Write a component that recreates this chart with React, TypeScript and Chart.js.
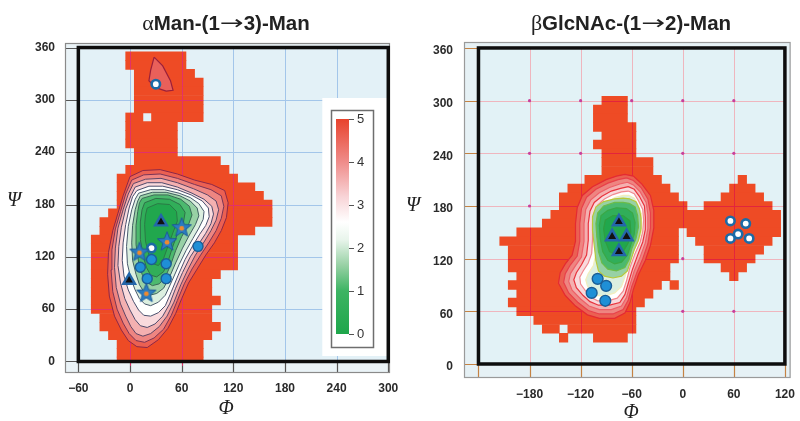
import React, { useEffect, useRef } from 'react';
import { Chart, registerables } from 'chart.js';

Chart.register(...registerables);

type Pt = [number, number];
type Row = [number, number, number];

// ---------------- shared ----------------
const CELL = 10;
const RED = '#ee4b25';
const Y_TICKS = [0, 60, 120, 180, 240, 300, 360];
const Y_LABELS = ['0', '60', '120', '180', '240', '300', '360'];
const LEVELS = [5, 4.5, 4, 3.5, 3, 2.5, 2, 1.5, 1, 0.5];
const CBAR_TICKS = [0, 1, 2, 3, 4, 5];
const CMAP_STOPS: [number, string][] = [
  [0, '#1ea64b'], [1, '#3db463'], [1.6, '#98d1a5'], [2.2, '#e9f5ec'],
  [2.6, '#ffffff'], [3.2, '#f8d3d6'], [4, '#ef8c8a'], [5, '#e8432d'],
];

// ---------------- left panel: αMan-(1→3)-Man ----------------
const LEFT_TITLE = ['α', 'Man-(1', '→', '3)-Man'];
const LEFT_X_TICKS = [-60, 0, 60, 120, 180, 240, 300];
const LEFT_X_LABELS = ['\u221260', '0', '60', '120', '180', '240', '300'];

// [psi, first phi cell, last phi cell]
const LEFT_ROWS: Row[] = [
  [350, 0, 60], [340, 0, 60], [330, 10, 70], [320, 10, 80], [310, 10, 80], [300, 10, 80], [290, 10, 80],
  [280, 0, 10], [280, 30, 80],
  [270, 0, 50], [260, 0, 50], [250, 0, 50], [240, 10, 50], [230, 10, 100], [220, 0, 110], [210, -10, 120],
  [200, -10, 140], [190, -10, 150], [180, -10, 160], [170, -20, 160], [160, -30, 160], [150, -30, 140],
  [140, -40, 120], [130, -40, 120], [120, -40, 120], [110, -40, 120], [100, -40, 100], [90, -40, 90],
  [80, -40, 90], [70, -40, 100], [60, -40, 90], [50, -30, 90], [40, -30, 100], [30, -20, 90],
  [20, -10, 80], [10, -10, 80], [0, -10, 80],
];

const L_C50: Pt[] = [[0,212],[15,219],[35,220],[55,215],[75,208],[95,203],[110,196],[114,182],[112,165],[106,150],[98,136],[88,122],[78,106],[68,90],[60,72],[53,55],[44,38],[33,25],[20,16],[8,17],[-2,24],[-10,36],[-18,52],[-24,75],[-26,100],[-25,125],[-20,150],[-14,170],[-8,190]];
const L_C45: Pt[] = [[2,208],[16,214],[35,215],[55,210],[75,203],[94,197],[106,190],[109,178],[106,164],[100,150],[92,137],[82,122],[72,106],[63,89],[55,70],[48,53],[39,37],[28,27],[17,22],[7,24],[-1,32],[-8,44],[-15,60],[-20,80],[-22,105],[-21,128],[-17,152],[-11,172],[-5,192]];
const L_C40: Pt[] = [[4,204],[18,209],[36,210],[55,205],[74,198],[90,191],[100,184],[103,174],[100,162],[94,150],[86,137],[76,122],[67,105],[59,88],[51,68],[43,52],[34,40],[24,32],[15,29],[7,32],[1,40],[-5,52],[-11,66],[-16,85],[-18,108],[-17,130],[-14,153],[-8,174],[-2,192]];
const L_C35: Pt[] = [[6,200],[20,205],[37,205],[55,200],[72,193],[86,186],[95,178],[97,169],[94,158],[88,147],[80,135],[70,120],[61,102],[53,84],[46,66],[38,52],[29,43],[20,39],[12,41],[6,48],[0,59],[-6,72],[-11,90],[-14,110],[-13,132],[-10,154],[-5,175],[1,190]];
const L_C30: Pt[] = [[8,196],[22,201],[38,201],[55,197],[71,191],[84,184],[91,176],[92,166],[88,156],[81,146],[73,133],[64,117],[56,99],[48,80],[41,64],[33,56],[24,52],[16,53],[10,59],[4,69],[-2,82],[-7,98],[-9,116],[-8,136],[-5,157],[-1,176],[3,189]];
const L_C25: Pt[] = [[10,193],[24,197],[40,197],[57,193],[70,188],[80,181],[86,172],[85,163],[80,153],[73,141],[65,127],[57,111],[49,93],[41,76],[33,68],[24,64],[17,66],[11,72],[6,82],[1,95],[-3,112],[-4,132],[-2,155],[2,174],[6,186]];
const L_C20: Pt[] = [[12,190],[26,194],[42,194],[58,190],[70,184],[78,176],[80,167],[76,157],[69,145],[61,130],[53,113],[46,97],[39,84],[31,78],[23,76],[16,80],[11,88],[7,100],[3,116],[2,136],[3,156],[6,174],[9,184]];
const L_C15: Pt[] = [[14,187],[28,191],[44,191],[59,186],[69,178],[72,168],[68,157],[60,143],[53,127],[47,110],[41,97],[34,89],[26,87],[19,91],[14,100],[10,114],[7,134],[7,156],[9,172],[11,182]];
const L_C10: Pt[] = [[17,182],[30,187],[46,186],[58,180],[64,171],[62,159],[55,146],[49,130],[44,114],[39,103],[31,97],[24,99],[19,108],[15,122],[12,140],[12,160],[14,174]];
const L_C05: Pt[] = [[20,176],[32,181],[46,180],[54,172],[55,161],[50,148],[44,132],[39,118],[33,110],[27,112],[22,122],[18,138],[17,157],[18,168]];
const LEFT_CONTOURS = [L_C50, L_C45, L_C40, L_C35, L_C30, L_C25, L_C20, L_C15, L_C10, L_C05];
const LEFT_LINE_COLORS = ['#8c2748', '#7a3456', '#5e4566', '#4f4a6c', '#4a506e', '#4a5a6e', '#3f6060', '#3a6a55', '#2f7048', '#2a7a45'];
const LEFT_ISLAND: Pt[] = [[28,349],[24,334],[22,322],[30,314],[42,310],[50,311],[47,322],[38,339]];

const LEFT_TRIANGLES: Pt[] = [[36, 160], [-1, 93]];
const LEFT_STARS: Pt[] = [[60, 154], [43, 138], [11, 126], [19, 79]];
const LEFT_BLUE: Pt[] = [[79, 132], [25, 117], [12, 108], [42, 112], [20, 95], [42, 95]];
const LEFT_WHITE: Pt[] = [[25, 130], [30, 318]];

// ---------------- right panel: βGlcNAc-(1→2)-Man ----------------
const RIGHT_TITLE = ['β', 'GlcNAc-(1', '→', '2)-Man'];
const RIGHT_X_TICKS = [-240, -180, -120, -60, 0, 60, 120];
const RIGHT_X_LABELS = ['', '\u2212180', '\u2212120', '\u221260', '0', '60', '120'];

const RIGHT_ROWS: Row[] = [
  [300, -90, -70],
  [290, -100, -70], [280, -100, -70], [270, -100, -60], [260, -90, -60], [250, -100, -60], [240, -90, -60],
  [230, -90, -40], [220, -90, -40],
  [210, -110, -30], [210, 70, 70],
  [200, -130, -20], [200, 60, 80],
  [190, -140, -10], [190, 50, 90],
  [180, -140, 0], [180, 30, 100],
  [170, -150, 110],
  [160, -160, 110],
  [150, -190, -10], [150, 10, 110],
  [140, -210, -10], [140, 20, 100],
  [130, -200, -10], [130, 30, 90],
  [120, -200, -10], [120, 30, 80],
  [110, -200, -20], [110, 50, 70],
  [100, -190, -20], [100, 60, 60],
  [90, -200, -30], [90, -10, -10],
  [80, -190, -40],
  [70, -200, -50],
  [60, -190, -60],
  [50, -170, -60],
  [40, -160, -150], [40, -130, -60],
  [30, -140, -140], [30, -100, -70],
];

const R_C50: Pt[] = [[-68,216],[-58,214],[-48,205],[-38,192],[-34,175],[-34,155],[-38,135],[-44,118],[-52,102],[-58,85],[-62,70],[-68,58],[-80,52],[-98,52],[-112,56],[-126,66],[-138,78],[-146,92],[-144,104],[-138,114],[-130,124],[-126,140],[-126,160],[-124,178],[-118,192],[-106,202],[-90,210],[-78,214]];
const R_C45: Pt[] = [[-66,212],[-58,209],[-49,201],[-41,188],[-38,172],[-38,155],[-41,137],[-47,120],[-54,104],[-60,88],[-64,73],[-70,62],[-82,57],[-98,57],[-111,61],[-123,70],[-134,81],[-140,93],[-138,103],[-132,113],[-124,123],[-121,140],[-121,160],[-119,177],[-113,190],[-102,199],[-88,206],[-76,210]];
const R_C40: Pt[] = [[-65,207],[-58,204],[-50,196],[-43,184],[-41,170],[-41,154],[-44,138],[-50,122],[-57,106],[-62,90],[-66,76],[-72,66],[-84,62],[-98,62],[-110,66],[-120,74],[-130,84],[-134,94],[-132,103],[-126,112],[-119,122],[-116,140],[-116,160],[-114,176],[-108,187],[-98,195],[-86,201],[-74,205]];
const R_C35: Pt[] = [[-64,202],[-57,199],[-51,191],[-45,180],[-44,167],[-44,153],[-47,139],[-53,124],[-59,108],[-64,92],[-68,79],[-74,70],[-86,67],[-99,67],[-109,71],[-117,78],[-125,87],[-128,96],[-125,104],[-119,113],[-113,124],[-111,141],[-111,160],[-109,174],[-104,184],[-95,191],[-84,197],[-73,200]];
const R_C30: Pt[] = [[-64,197],[-57,194],[-52,186],[-47,176],[-46,164],[-47,151],[-50,139],[-56,126],[-62,110],[-66,95],[-70,83],[-77,75],[-88,72],[-100,72],[-108,76],[-114,83],[-120,91],[-121,99],[-117,106],[-111,115],[-107,126],[-106,142],[-106,160],[-104,172],[-100,181],[-92,188],[-82,193],[-72,196]];
const R_C25: Pt[] = [[-63,192],[-57,189],[-53,182],[-49,172],[-48,162],[-49,150],[-53,139],[-58,128],[-64,113],[-68,99],[-72,88],[-80,81],[-90,78],[-101,78],[-108,82],[-112,89],[-114,96],[-111,103],[-105,112],[-102,126],[-101,143],[-101,160],[-99,171],[-95,179],[-88,185],[-79,190],[-70,192]];
const R_C20: Pt[] = [[-62,188],[-55,185],[-51,177],[-49,166],[-49,154],[-52,141],[-57,130],[-61,118],[-65,106],[-72,100],[-82,98],[-92,100],[-99,106],[-102,118],[-104,135],[-106,152],[-106,168],[-102,179],[-93,185],[-80,188],[-70,189]];
const R_C15: Pt[] = [[-63,183],[-56,179],[-53,169],[-52,156],[-55,143],[-60,131],[-63,119],[-68,110],[-78,106],[-88,108],[-95,115],[-99,128],[-101,145],[-102,160],[-100,172],[-93,180],[-80,184],[-70,184]];
const R_C10: Pt[] = [[-66,177],[-59,172],[-56,161],[-57,148],[-61,136],[-65,124],[-72,116],[-80,114],[-88,118],[-94,128],[-97,143],[-98,158],[-96,169],[-88,175],[-78,178]];
const R_C05: Pt[] = [[-70,169],[-62,163],[-61,150],[-64,138],[-70,128],[-78,124],[-86,128],[-91,140],[-93,154],[-91,164],[-82,169]];
const RIGHT_CONTOURS = [R_C50, R_C45, R_C40, R_C35, R_C30, R_C25, R_C20, R_C15, R_C10, R_C05];
const RIGHT_LINE_COLORS = ['#e42a32', '#e8404a', '#ee6068', '#e8343e', '#f08a90', '#f3eebc', '#b8c83a', '#6cbc48', '#3aa845', '#2f9e40'];

const RIGHT_TRIANGLES: Pt[] = [[-75, 162], [-83, 145], [-66, 145], [-75, 128]];
const RIGHT_BLUE: Pt[] = [[-100, 97], [-90, 89], [-107, 81], [-91, 72]];
const RIGHT_WHITE: Pt[] = [[56, 163], [74, 160], [65, 148], [56, 143], [78, 143]];

// ---------------- helpers ----------------
function hexRgb(h: string) {
  return [parseInt(h.slice(1, 3), 16), parseInt(h.slice(3, 5), 16), parseInt(h.slice(5, 7), 16)];
}
function cmap(v: number) {
  const s = CMAP_STOPS;
  if (v <= s[0][0]) return s[0][1];
  for (let i = 1; i < s.length; i++) {
    if (v <= s[i][0]) {
      const t = (v - s[i - 1][0]) / (s[i][0] - s[i - 1][0]);
      const a = hexRgb(s[i - 1][1]);
      const b = hexRgb(s[i][1]);
      const c = a.map((ai, k) => Math.round(ai + (b[k] - ai) * t));
      return `rgb(${c[0]},${c[1]},${c[2]})`;
    }
  }
  return s[s.length - 1][1];
}

function makeStar() {
  const c = document.createElement('canvas');
  c.width = 22; c.height = 22;
  const g = c.getContext('2d')!;
  g.beginPath();
  for (let i = 0; i < 10; i++) {
    const r = i % 2 === 0 ? 10.2 : 4.4;
    const a = -Math.PI / 2 + (i * Math.PI) / 5;
    const px = 11 + r * Math.cos(a), py = 11.8 + r * Math.sin(a);
    if (i === 0) g.moveTo(px, py); else g.lineTo(px, py);
  }
  g.closePath();
  g.fillStyle = '#2a7cc2';
  g.fill();
  g.strokeStyle = '#1d5a96';
  g.lineWidth = 1;
  g.stroke();
  g.beginPath();
  g.arc(11, 12.2, 2.4, 0, Math.PI * 2);
  g.fillStyle = '#f08a2e';
  g.fill();
  return c;
}

function polygonDataset(pts: Pt[], fill: string, line: string, order: number, width = 1) {
  const data = pts.concat([pts[0]]).map(([x, y]) => ({ x, y }));
  return {
    type: 'line', data, fill: 'shape', backgroundColor: fill, borderColor: line,
    borderWidth: width, pointRadius: 0, pointHoverRadius: 0, tension: 0, order,
  };
}

function markerDataset(pts: Pt[], style: any, radius: number, bg: string, border: string, bw: number, order: number) {
  return {
    type: 'scatter', data: pts.map(([x, y]) => ({ x, y })), pointStyle: style, pointRadius: radius,
    pointHoverRadius: radius, backgroundColor: bg, borderColor: border, borderWidth: bw, order,
  };
}

function drawTitle(ctx: CanvasRenderingContext2D, parts: string[], cx: number, baseline: number) {
  const fonts = ['22px "Liberation Serif"', 'bold 20.5px "Liberation Sans"', '19px "DejaVu Sans"', 'bold 20.5px "Liberation Sans"'];
  const sx = [1, 1, 1.5, 1];
  ctx.save();
  ctx.fillStyle = '#222';
  ctx.textBaseline = 'alphabetic';
  ctx.textAlign = 'left';
  const widths = parts.map((p, i) => { ctx.font = fonts[i]; return ctx.measureText(p).width * sx[i]; });
  const total = widths.reduce((a, b) => a + b, 0);
  let x = cx - total / 2;
  parts.forEach((p, i) => {
    ctx.font = fonts[i];
    ctx.save();
    ctx.translate(x, baseline - (i === 2 ? 1 : 0));
    ctx.scale(sx[i], 1);
    ctx.fillText(p, 0, 0);
    ctx.restore();
    x += widths[i];
  });
  ctx.restore();
}

const px = (v: number) => Math.round(v) + 0.5;

function makePlugin(cfg: any) {
  return {
    id: 'panelDecor',
    beforeDraw(chart: any) {
      const { ctx, chartArea: a, scales: { x, y } } = chart;
      ctx.save();
      ctx.fillStyle = '#ffffff';
      ctx.fillRect(0, 0, chart.width, chart.height);
      ctx.fillStyle = cfg.outerBg;
      ctx.fillRect(a.left, a.top, a.right - a.left, a.bottom - a.top);
      const bx0 = x.getPixelForValue(cfg.box[0]), bx1 = x.getPixelForValue(cfg.box[1]);
      const by0 = y.getPixelForValue(cfg.box[2]), by1 = y.getPixelForValue(cfg.box[3]);
      ctx.fillStyle = cfg.boxBg;
      ctx.fillRect(bx0, by1, bx1 - bx0, by0 - by1);
      ctx.restore();
    },
    beforeDatasetsDraw(chart: any) {
      const { ctx, chartArea: a, scales: { x, y } } = chart;
      const bx0 = x.getPixelForValue(cfg.box[0]), bx1 = x.getPixelForValue(cfg.box[1]);
      const by0 = y.getPixelForValue(cfg.box[2]), by1 = y.getPixelForValue(cfg.box[3]);
      ctx.save();
      ctx.lineWidth = 1;
      ctx.strokeStyle = cfg.gridColor;
      ctx.beginPath();
      cfg.xTicks.forEach((v: number) => {
        if (v <= cfg.box[0] || v >= cfg.box[1]) return;
        const xx = px(x.getPixelForValue(v));
        ctx.moveTo(xx, by1); ctx.lineTo(xx, by0);
      });
      Y_TICKS.forEach((v) => {
        if (v <= cfg.box[2] || v >= cfg.box[3]) return;
        const yy = px(y.getPixelForValue(v));
        ctx.moveTo(bx0, yy); ctx.lineTo(bx1, yy);
      });
      ctx.stroke();
      if (cfg.dots) {
        ctx.fillStyle = cfg.dotColor;
        cfg.xTicks.forEach((v: number) => {
          if (v <= cfg.box[0] || v >= cfg.box[1]) return;
          Y_TICKS.forEach((w) => {
            if (w <= cfg.box[2] || w >= cfg.box[3]) return;
            ctx.beginPath();
            ctx.arc(x.getPixelForValue(v), y.getPixelForValue(w), 1.6, 0, Math.PI * 2);
            ctx.fill();
          });
        });
      }
      // tick stubs between frame and box
      ctx.strokeStyle = cfg.stubColor;
      ctx.lineWidth = 1.2;
      ctx.beginPath();
      Y_TICKS.forEach((v) => {
        const yy = px(y.getPixelForValue(v));
        ctx.moveTo(a.left, yy); ctx.lineTo(bx0, yy);
      });
      cfg.xTicks.forEach((v: number) => {
        const xx = px(x.getPixelForValue(v));
        ctx.moveTo(xx, by0); ctx.lineTo(xx, a.bottom);
      });
      ctx.stroke();
      ctx.restore();
    },
    afterDatasetDraw(chart: any, args: any) {
      if (args.meta.type !== 'bar') return;
      const { ctx, scales: { x, y } } = chart;
      ctx.save();
      ctx.strokeStyle = cfg.redGrid;
      ctx.lineWidth = 1;
      ctx.beginPath();
      cfg.rows.forEach(([psi, a, b]: Row) => {
        const l = a - CELL / 2, r = b + CELL / 2, lo = psi - CELL / 2, hi = psi + CELL / 2;
        cfg.xTicks.forEach((g: number) => {
          if (g > l && g < r && g > cfg.box[0] && g < cfg.box[1]) {
            const xx = px(x.getPixelForValue(g));
            ctx.moveTo(xx, y.getPixelForValue(lo)); ctx.lineTo(xx, y.getPixelForValue(hi));
          }
        });
        Y_TICKS.forEach((h) => {
          if (h >= lo && h < hi && h > cfg.box[2] && h < cfg.box[3]) {
            const yy = px(y.getPixelForValue(h));
            ctx.moveTo(x.getPixelForValue(l), yy); ctx.lineTo(x.getPixelForValue(r), yy);
          }
        });
      });
      ctx.stroke();
      ctx.restore();
    },
    afterDatasetsDraw(chart: any) {
      const { ctx, chartArea: a, scales: { x, y } } = chart;
      const bx0 = x.getPixelForValue(cfg.box[0]), bx1 = x.getPixelForValue(cfg.box[1]);
      const by0 = y.getPixelForValue(cfg.box[2]), by1 = y.getPixelForValue(cfg.box[3]);
      ctx.save();
      if (cfg.colorbar) {
        const pl = bx1 - 66, pt = 98, pb = 356;
        ctx.fillStyle = '#ffffff';
        ctx.fillRect(pl, pt, bx1 - pl, pb - pt);
        ctx.strokeStyle = '#6e6e6e';
        ctx.lineWidth = 1.5;
        ctx.strokeRect(331.5, 110.5, 42, 237);
        const gx0 = 336, gx1 = 349, gTop = 119, gBot = 334;
        const grad = ctx.createLinearGradient(0, gBot, 0, gTop);
        CMAP_STOPS.forEach(([v, c]) => grad.addColorStop(v / 5, c));
        ctx.fillStyle = grad;
        ctx.fillRect(gx0, gTop, gx1 - gx0, gBot - gTop);
        ctx.strokeStyle = '#555';
        ctx.lineWidth = 1;
        ctx.fillStyle = '#333';
        ctx.font = '13px "Liberation Sans"';
        ctx.textBaseline = 'middle';
        ctx.textAlign = 'left';
        CBAR_TICKS.forEach((v) => {
          const yy = gBot - ((gBot - gTop) * v) / 5;
          ctx.beginPath();
          ctx.moveTo(gx1, px(yy)); ctx.lineTo(gx1 + 5, px(yy));
          ctx.stroke();
          ctx.fillText(String(v), gx1 + 8, yy);
        });
      }
      // outer frame
      ctx.strokeStyle = cfg.frameColor;
      ctx.lineWidth = 1.2;
      ctx.strokeRect(a.left + 0.5, a.top + 0.5, a.right - a.left - 1, a.bottom - a.top - 1);
      // black box
      ctx.strokeStyle = '#0d0d0d';
      ctx.lineWidth = 3.5;
      ctx.strokeRect(bx0, by1, bx1 - bx0, by0 - by1);
      ctx.restore();
    },
    afterDraw(chart: any) {
      const { ctx } = chart;
      drawTitle(ctx, cfg.title, cfg.titleX, 30);
      ctx.save();
      ctx.fillStyle = '#222';
      ctx.font = 'italic 20px "Liberation Serif"';
      ctx.textAlign = 'center';
      ctx.textBaseline = 'middle';
      ctx.fillText('Ψ', cfg.psiPos[0], cfg.psiPos[1]);
      ctx.fillText('Φ', cfg.phiPos[0], cfg.phiPos[1]);
      ctx.restore();
    },
  };
}

function buildChart(canvas: HTMLCanvasElement, cfg: any) {
  const star = makeStar();
  const datasets: any[] = [];
  datasets.push({
    type: 'bar', indexAxis: 'y', label: 'cells',
    data: cfg.rows.map(([psi, a, b]: Row) => ({ y: psi, x: [a - CELL / 2, b + CELL / 2] })),
    backgroundColor: RED, borderWidth: 0, barPercentage: 1, categoryPercentage: 1, grouped: false,
    order: 100, clip: cfg.barClip,
  });
  cfg.contours.forEach((poly: Pt[], i: number) => {
    datasets.push(polygonDataset(poly, cmap(LEVELS[i] - cfg.fillShift), cfg.lineColors[i], 60 - i, cfg.lineWidth));
  });
  if (cfg.island) datasets.push(polygonDataset(cfg.island, '#e9605a', '#9a1f3a', 59.5, 1.2));
  if (cfg.white) datasets.push(markerDataset(cfg.white, 'circle', 4.2, '#ffffff', '#1c6aa6', 2.6, 6));
  if (cfg.blue) datasets.push(markerDataset(cfg.blue, 'circle', cfg.blueR, '#1f8fd6', '#1b5d96', 1.4, 4));
  if (cfg.stars) datasets.push(markerDataset(cfg.stars, star, 8, '#2a7cc2', '#1d5a96', 1, 3));
  if (cfg.triangles) datasets.push(markerDataset(cfg.triangles, 'triangle', cfg.triR, '#111111', '#2466aa', 2.4, 2));

  const tickFont = { family: '"Liberation Sans", Arial, sans-serif', size: 12, weight: 'bold' as const };
  return new Chart(canvas, {
    type: 'scatter',
    data: { datasets },
    options: {
      responsive: false,
      maintainAspectRatio: false,
      animation: false,
      events: [],
      layout: { padding: { left: 0, right: cfg.padRight, top: cfg.padTop, bottom: 0 } },
      plugins: { legend: { display: false }, tooltip: { enabled: false }, title: { display: false } },
      scales: {
        x: {
          type: 'linear', min: cfg.xMin, max: cfg.xMax, offset: false,
          grid: { display: false, drawTicks: false, offset: false }, border: { display: false },
          afterBuildTicks: (s: any) => { s.ticks = cfg.xTicks.map((v: number) => ({ value: v })); },
          afterFit: (s: any) => { s.height = cfg.xHeight; s.paddingLeft = 0; s.paddingRight = 0; },
          ticks: {
            autoSkip: false, maxRotation: 0, padding: cfg.xPad, color: '#2a2a2a', font: tickFont,
            callback: (_v: any, i: number) => cfg.xLabels[i],
          },
        },
        y: {
          type: 'linear', min: cfg.yMin, max: cfg.yMax, offset: false,
          grid: { display: false, drawTicks: false, offset: false }, border: { display: false },
          afterBuildTicks: (s: any) => { s.ticks = Y_TICKS.map((v) => ({ value: v })); },
          afterFit: (s: any) => { s.width = cfg.yWidth; s.paddingTop = 0; s.paddingBottom = 0; },
          ticks: {
            autoSkip: false, padding: cfg.yPad, color: '#2a2a2a', font: tickFont,
            labelOffset: cfg.yLabelOffset,
            callback: (_v: any, i: number) => Y_LABELS[i],
          },
        },
      },
    } as any,
    plugins: [makePlugin(cfg)],
  } as any);
}

const LEFT_CFG = {
  title: LEFT_TITLE, titleX: 226, psiPos: [14, 201], phiPos: [226, 409],
  xMin: -75.5, xMax: 302, yMin: -13.2, yMax: 365.2,
  padTop: 43, padRight: 10, yWidth: 65, xHeight: 48, xPad: 8, yPad: 10, yLabelOffset: 0,
  box: [-60, 300, 0, 360], xTicks: LEFT_X_TICKS, xLabels: LEFT_X_LABELS,
  rows: LEFT_ROWS, contours: LEFT_CONTOURS, lineColors: LEFT_LINE_COLORS, lineWidth: 1, fillShift: 0.4,
  island: LEFT_ISLAND, white: LEFT_WHITE, blue: LEFT_BLUE, blueR: 5, stars: LEFT_STARS, triangles: LEFT_TRIANGLES, triR: 6.8,
  outerBg: '#eaf3f7', boxBg: '#e3f1f7', gridColor: '#a3c6ea', dots: false, dotColor: '#c03c9c',
  stubColor: '#555555', frameColor: '#8a8a8a', redGrid: '#e2306a', colorbar: true,
  barClip: { left: 0, top: 0, right: 0, bottom: -10 },
};

const RIGHT_CFG = {
  title: RIGHT_TITLE, titleX: 231, psiPos: [13, 206], phiPos: [231, 413],
  xMin: -257, xMax: 126.7, yMin: -15.95, yMax: 366.8,
  padTop: 42, padRight: 6, yWidth: 64, xHeight: 43, xPad: 9, yPad: 11, yLabelOffset: 3,
  box: [-240, 120, 0, 360], xTicks: RIGHT_X_TICKS, xLabels: RIGHT_X_LABELS,
  rows: RIGHT_ROWS, contours: RIGHT_CONTOURS, lineColors: RIGHT_LINE_COLORS, lineWidth: 1.2, fillShift: 0.4,
  island: null, white: RIGHT_WHITE, blue: RIGHT_BLUE, blueR: 5.4, stars: null, triangles: RIGHT_TRIANGLES, triR: 7,
  outerBg: '#e6f1f5', boxBg: '#e2f2f6', gridColor: '#efb6be', dots: true, dotColor: '#c8409c',
  stubColor: '#c58243', frameColor: '#9a9a9a', redGrid: '#e3243c', colorbar: false,
  barClip: { left: 0, top: 0, right: 0, bottom: 0 },
};

export default function App() {
  const leftRef = useRef<HTMLCanvasElement>(null);
  const rightRef = useRef<HTMLCanvasElement>(null);
  useEffect(() => {
    const a = buildChart(leftRef.current!, LEFT_CFG);
    const b = buildChart(rightRef.current!, RIGHT_CFG);
    return () => { a.destroy(); b.destroy(); };
  }, []);
  return (
    <div style={{ position: 'absolute', left: 0, top: 0, width: 800, height: 421, background: '#fff' }}>
      <canvas ref={leftRef} width={400} height={421} style={{ position: 'absolute', left: 0, top: 0 }} />
      <canvas ref={rightRef} width={400} height={421} style={{ position: 'absolute', left: 400, top: 0 }} />
    </div>
  );
}
